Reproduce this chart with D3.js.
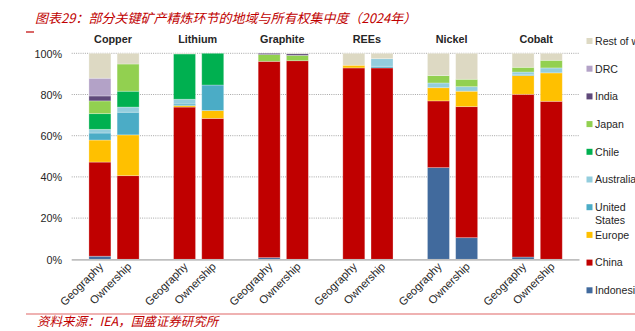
<!DOCTYPE html>
<html>
<head>
<meta charset="utf-8">
<script src="https://cdn.jsdelivr.net/npm/d3@7"></script>
<style>
  html, body { margin: 0; padding: 0; background: #fff; }
  svg { display: block; }
</style>
</head>
<body>
<svg id="chart" width="635" height="331"></svg>
<script>
// Minerals and the two refining views shown for each
const minerals = ["Copper", "Lithium", "Graphite", "REEs", "Nickel", "Cobalt"];
const views = ["Geography", "Ownership"];

// Regions, bottom of the stack first
const regions = ["Indonesia", "China", "Europe", "United States", "Australia", "Chile", "Japan", "India", "DRC", "Rest of world"];
const regionColors = ["#416a9d", "#c00000", "#ffc000", "#4bacc6", "#93cddd", "#00b050", "#92d050", "#5f497a", "#b3a2c7", "#ddd9c3"];

// Shares (%) per bar, in region order above
const copperGeography   = [1.5, 45.7, 10.7, 3.4, 1.8, 7.6, 6.2, 2.4, 8.6, 12.1];
const copperOwnership   = [0, 40.6, 19.8, 11.0, 2.5, 7.7, 13.2, 0, 0, 5.2];
const lithiumGeography  = [0, 73.9, 0.7, 0.8, 2.3, 22.0, 0, 0, 0, 0.3];
const lithiumOwnership  = [0, 68.4, 3.8, 12.4, 0, 15.4, 0, 0, 0, 0];
const graphiteGeography = [0.8, 95.3, 0, 0, 0, 0, 3.3, 0.6, 0, 0];
const graphiteOwnership = [0, 96.4, 0, 0, 0, 0, 2.6, 0.8, 0, 0.2];
const reesGeography     = [0, 92.9, 1.3, 0, 0, 0, 0, 0, 0, 5.8];
const reesOwnership     = [0, 92.9, 0, 0.8, 3.7, 0, 0, 0, 0, 2.6];
const nickelGeography   = [44.5, 32.4, 6.4, 0, 2.3, 0, 3.6, 0, 0, 10.8];
const nickelOwnership   = [10.5, 63.6, 7.5, 0, 2.2, 0, 3.6, 0, 0, 12.6];
const cobaltGeography   = [1.1, 79.0, 9.1, 0.6, 1.1, 0, 2.3, 0, 0, 6.8];
const cobaltOwnership   = [0, 76.7, 13.8, 0, 2.4, 0, 3.7, 0, 0, 3.4];

const yTicks = [0, 20, 40, 60, 80, 100];

const series = {
  Copper:   { Geography: copperGeography,   Ownership: copperOwnership },
  Lithium:  { Geography: lithiumGeography,  Ownership: lithiumOwnership },
  Graphite: { Geography: graphiteGeography, Ownership: graphiteOwnership },
  REEs:     { Geography: reesGeography,     Ownership: reesOwnership },
  Nickel:   { Geography: nickelGeography,   Ownership: nickelOwnership },
  Cobalt:   { Geography: cobaltGeography,   Ownership: cobaltOwnership }
};

// Flat table: one row per bar, one column per region
const rows = [];
minerals.forEach(m => views.forEach(v => {
  const row = { mineral: m, view: v };
  regions.forEach((r, i) => { row[r] = series[m][v][i]; });
  rows.push(row);
}));

const svg = d3.select("#chart");
const labelFont = "'Liberation Sans', Arial, sans-serif";
const cjkFont = "'Noto Sans CJK SC', sans-serif";
const textColor = "#262626";

const plot = { left: 71.7, right: 579.5, top: 53.3, bottom: 259.3 };

const x0 = d3.scaleBand().domain(minerals).range([plot.left, plot.right]).padding(0);
const half = 28.2;
const x1 = d3.scaleBand().domain(views)
  .range([x0.bandwidth() / 2 - half, x0.bandwidth() / 2 + half])
  .paddingInner(0.22).paddingOuter(0.11);
const y = d3.scaleLinear().domain([0, 100]).range([plot.bottom, plot.top]);

// Title
svg.append("text")
  .attr("x", 35).attr("y", 23)
  .attr("font-family", cjkFont).attr("font-size", 13)
  .attr("font-style", "italic")
  .attr("fill", "#c00000")
  .text("图表29：部分关键矿产精炼环节的地域与所有权集中度（2024年）");
svg.append("line")
  .attr("x1", 26).attr("x2", 34).attr("y1", 32).attr("y2", 32)
  .attr("stroke", "#c00000").attr("stroke-width", 1.2);

// Dotted gridlines
svg.append("g").selectAll("line")
  .data(yTicks.filter(t => t > 0))
  .join("line")
  .attr("x1", plot.left).attr("x2", plot.right)
  .attr("y1", d => y(d)).attr("y2", d => y(d))
  .attr("stroke", "#a6a6a6").attr("stroke-width", 1)
  .attr("stroke-dasharray", "1,1.2");

// Y axis labels
const yAxis = d3.axisLeft(y).tickValues(yTicks).tickFormat(d => d + "%").tickSize(0).tickPadding(0);
const gy = svg.append("g").attr("transform", `translate(${plot.left - 9.5},0)`).call(yAxis);
gy.select(".domain").remove();
gy.selectAll("text")
  .attr("font-family", labelFont).attr("font-size", 10.8)
  .attr("fill", textColor).attr("dy", "0.35em");

// Stacked bars
const stack = d3.stack().keys(regions);
const layers = stack(rows);
const color = d3.scaleOrdinal().domain(regions).range(regionColors);

svg.append("g").selectAll("g")
  .data(layers)
  .join("g")
  .attr("fill", d => color(d.key))
  .selectAll("rect")
  .data(d => d.filter(s => s[1] - s[0] > 0))
  .join("rect")
  .attr("x", d => x0(d.data.mineral) + x1(d.data.view))
  .attr("width", x1.bandwidth())
  .attr("y", d => y(d[1]))
  .attr("height", d => y(d[0]) - y(d[1]))
  .attr("stroke", "#ffffff").attr("stroke-opacity", 0.35).attr("stroke-width", 0.8);

// Baseline
svg.append("line")
  .attr("x1", plot.left).attr("x2", plot.right)
  .attr("y1", plot.bottom + 0.5).attr("y2", plot.bottom + 0.5)
  .attr("stroke", "#bfbfbf").attr("stroke-width", 1.8);

// Mineral headings
svg.append("g").selectAll("text")
  .data(minerals)
  .join("text")
  .attr("x", d => x0(d) + x0.bandwidth() / 2 - 1)
  .attr("y", 43)
  .attr("text-anchor", "middle")
  .attr("font-family", labelFont).attr("font-size", 10.8).attr("font-weight", "bold")
  .attr("fill", textColor)
  .text(d => d);

// Rotated view labels
svg.append("g").selectAll("text")
  .data(rows)
  .join("text")
  .attr("transform", d => `translate(${x0(d.mineral) + x1(d.view) + x1.bandwidth() / 2 + 4},${plot.bottom + 8}) rotate(-45)`)
  .attr("text-anchor", "end")
  .attr("font-family", labelFont).attr("font-size", 11.2)
  .attr("fill", textColor)
  .text(d => d.view);

// Legend, top entry = top of stack
const legendRows = regions.slice().reverse();
const legend = svg.append("g").selectAll("g")
  .data(legendRows)
  .join("g")
  .attr("transform", (d, i) => `translate(586.5,${41 + i * 27.7})`);
legend.append("rect")
  .attr("x", 0).attr("y", -3).attr("width", 6).attr("height", 6)
  .attr("fill", d => color(d));
legend.append("text")
  .attr("x", 8.5).attr("y", 0).attr("dy", "0.36em")
  .attr("font-family", labelFont).attr("font-size", 10.6)
  .attr("fill", textColor)
  .each(function (d) {
    const t = d3.select(this);
    if (d === "United States") {
      t.append("tspan").attr("x", 8.5).text("United");
      t.append("tspan").attr("x", 8.5).attr("dy", 12.6).text("States");
    } else {
      t.text(d);
    }
  });

// Source line
svg.append("line")
  .attr("x1", 26).attr("x2", 635).attr("y1", 314).attr("y2", 314)
  .attr("stroke", "#e06666").attr("stroke-width", 1.2);
svg.append("text")
  .attr("x", 37).attr("y", 326)
  .attr("font-family", cjkFont).attr("font-size", 12.5)
  .attr("font-style", "italic")
  .attr("fill", "#c00000")
  .text("资料来源：IEA，国盛证券研究所");
</script>
</body>
</html>
